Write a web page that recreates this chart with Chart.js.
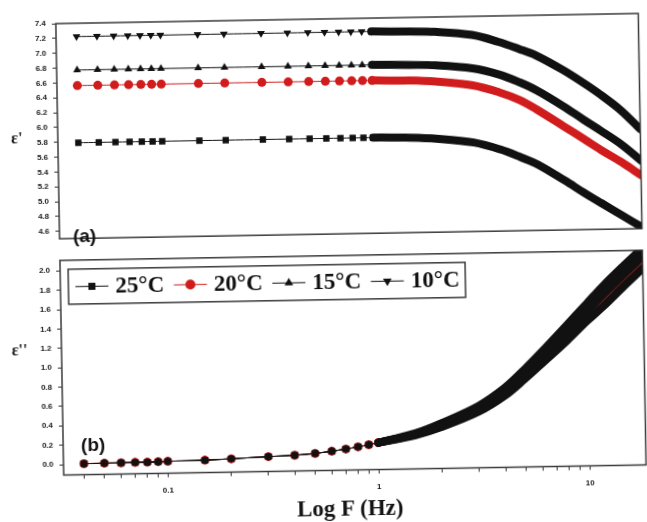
<!DOCTYPE html>
<html>
<head>
<meta charset="utf-8">
<script src="https://cdn.jsdelivr.net/npm/chart.js@4.4.1/dist/chart.umd.min.js"></script>
<style>
  html, body { margin: 0; padding: 0; background: #fff; overflow: hidden; }
  #fig { position: relative; width: 647px; height: 522px; overflow: hidden; background: #fff; }
  #rot { position: absolute; left: 0; top: 0; width: 647px; height: 522px; transform: rotate(-1deg); transform-origin: 323px 261px; }
  canvas { position: absolute; left: 0; }
  .txt { position: absolute; transform: translate(-50%, -50%); color: #141414; white-space: nowrap; line-height: 1; }
</style>
</head>
<body>
<div id="fig"><div id="rot">
  <canvas id="chartA" width="647" height="245" style="top:0"></canvas>
  <canvas id="chartB" width="647" height="277" style="top:245px"></canvas>
  <div class="txt" style="left:19px;top:133px;font:bold 16px 'Liberation Serif'">ε'</div>
  <div class="txt" style="left:18px;top:345px;font:bold 16px 'Liberation Serif'">ε''</div>
  <div class="txt" style="left:85px;top:232px;font:bold 19px 'Liberation Sans'">(a)</div>
  <div class="txt" style="left:90px;top:441px;font:bold 19px 'Liberation Sans'">(b)</div>
  <div class="txt" style="left:346px;top:509px;font:bold 23px 'Liberation Serif'">Log F (Hz)</div>
</div></div>
<script>
// frequencies (Hz); markers are drawn up to 1 Hz, above that the points merge into a thick band
const freqHz = [0.04, 0.05, 0.06, 0.07, 0.08, 0.09, 0.1, 0.15, 0.2, 0.3, 0.4, 0.5, 0.6, 0.7, 0.8, 0.9, 1,
                1.5, 2, 3, 4, 5, 6, 8, 10, 12, 15, 18.5];

const seriesNames = ['25°C', '20°C', '15°C', '10°C'];
const seriesColors = ['#111111', '#d01c1c', '#111111', '#111111'];
const markerStyles = ['rect', 'circle', 'triangle', 'triangle'];
const markerRotation = [0, 0, 0, 180];
const drawOrder = [0, 3, 1, 2];

// panel (a): real permittivity
const epsReal25 = [5.79, 5.79, 5.79, 5.79, 5.79, 5.79, 5.79, 5.79, 5.79, 5.79, 5.79, 5.79, 5.79, 5.79, 5.79, 5.79, 5.79,
                   5.78, 5.76, 5.70, 5.60, 5.49, 5.39, 5.17, 4.99, 4.85, 4.68, 4.52];
const epsReal20 = [6.56, 6.56, 6.56, 6.56, 6.56, 6.56, 6.56, 6.56, 6.56, 6.56, 6.56, 6.56, 6.56, 6.56, 6.56, 6.56, 6.56,
                   6.55, 6.53, 6.47, 6.37, 6.26, 6.13, 5.90, 5.72, 5.57, 5.40, 5.22];
const epsReal15 = [6.77, 6.77, 6.77, 6.77, 6.77, 6.77, 6.77, 6.77, 6.77, 6.77, 6.77, 6.77, 6.77, 6.77, 6.77, 6.77, 6.77,
                   6.76, 6.75, 6.70, 6.61, 6.50, 6.39, 6.17, 5.98, 5.83, 5.64, 5.42];
const epsReal10 = [7.22, 7.22, 7.22, 7.22, 7.22, 7.22, 7.22, 7.22, 7.22, 7.22, 7.22, 7.22, 7.22, 7.22, 7.22, 7.22, 7.22,
                   7.21, 7.20, 7.15, 7.05, 6.95, 6.86, 6.66, 6.48, 6.32, 6.10, 5.84];

// panel (b): imaginary permittivity
const epsImag25 = [0.005, 0.007, 0.008, 0.01, 0.01, 0.012, 0.015, 0.02, 0.03, 0.045, 0.055, 0.07, 0.09, 0.11, 0.13, 0.15, 0.17,
                   0.24, 0.32, 0.47, 0.63, 0.80, 0.95, 1.19, 1.39, 1.54, 1.74, 1.92];
const epsImag20 = [0.005, 0.007, 0.008, 0.01, 0.01, 0.012, 0.015, 0.02, 0.03, 0.045, 0.055, 0.07, 0.09, 0.11, 0.13, 0.15, 0.17,
                   0.25, 0.33, 0.48, 0.65, 0.82, 0.98, 1.22, 1.43, 1.59, 1.79, 1.97];
const epsImag15 = [0.005, 0.007, 0.008, 0.01, 0.01, 0.012, 0.015, 0.02, 0.03, 0.045, 0.055, 0.07, 0.09, 0.11, 0.13, 0.15, 0.17,
                   0.25, 0.34, 0.51, 0.68, 0.86, 1.02, 1.28, 1.49, 1.66, 1.86, 2.04];
const epsImag10 = [0.005, 0.007, 0.008, 0.01, 0.01, 0.012, 0.015, 0.02, 0.03, 0.045, 0.055, 0.07, 0.09, 0.11, 0.13, 0.15, 0.17,
                   0.26, 0.36, 0.53, 0.71, 0.90, 1.07, 1.35, 1.57, 1.75, 1.95, 2.13];

// axis ticks
const realTicks = [4.6, 4.8, 5.0, 5.2, 5.4, 5.6, 5.8, 6.0, 6.2, 6.4, 6.6, 6.8, 7.0, 7.2, 7.4];
const imagTicks = [0.0, 0.2, 0.4, 0.6, 0.8, 1.0, 1.2, 1.4, 1.6, 1.8, 2.0];
const freqTicks = [0.04, 0.05, 0.06, 0.07, 0.08, 0.09, 0.1, 0.2, 0.3, 0.4, 0.5, 0.6, 0.7, 0.8, 0.9,
                   1, 2, 3, 4, 5, 6, 7, 8, 9, 10];
const freqTickLabels = { 0.1: '0.1', 1: '1', 10: '10' };

const tickFont = { family: 'Liberation Sans', size: 8, weight: 'bold' };

function makeDatasets(valueSets, thick) {
    return valueSets.map((vals, i) => ({
        label: seriesNames[i],
        data: freqHz.map((f, j) => ({ x: f, y: vals[j] })),
        order: drawOrder[i],
        borderColor: seriesColors[i],
        backgroundColor: seriesColors[i],
        pointStyle: markerStyles[i],
        pointRotation: markerRotation[i],
        pointRadius: ctx => (ctx.raw && ctx.raw.x <= 1 ? 4.5 : 0),
        pointBorderWidth: 0,
        borderWidth: 1,
        borderCapStyle: 'round',
        borderJoinStyle: 'round',
        tension: 0.35,
        segment: {
            borderWidth: ctx => (ctx.p0.parsed.x >= 1 ? thick : 1)
        }
    }));
}

const framePlugin = {
    id: 'frame',
    afterDatasetsDraw(chart) {
        const { ctx, chartArea: a } = chart;
        ctx.save();
        ctx.strokeStyle = '#3a3a3a';
        ctx.lineWidth = 1.5;
        ctx.strokeRect(a.left, a.top, a.right - a.left, a.bottom - a.top);
        ctx.restore();
    }
};

const legendBoxPlugin = {
    id: 'legendBox',
    afterDatasetsDraw(chart) {
        const { ctx, chartArea: a } = chart;
        const left = a.left + 8, top = a.top + 9, w = 397, h = 35;
        const cy = top + h / 2;
        ctx.save();
        ctx.fillStyle = '#fff';
        ctx.fillRect(left, top, w, h);
        ctx.strokeStyle = '#3a3a3a';
        ctx.lineWidth = 1.5;
        ctx.strokeRect(left, top, w, h);
        ctx.font = "bold 23px 'Liberation Serif'";
        ctx.textBaseline = 'middle';
        chart.data.datasets.forEach((ds, i) => {
            const x0 = left + 7 + i * 98.5;
            ctx.strokeStyle = ds.borderColor;
            ctx.lineWidth = 1;
            ctx.beginPath();
            ctx.moveTo(x0, cy);
            ctx.lineTo(x0 + 33, cy);
            ctx.stroke();
            ctx.fillStyle = ds.backgroundColor;
            Chart.helpers.drawPoint(ctx, { pointStyle: ds.pointStyle, rotation: ds.pointRotation, radius: 5, borderWidth: 0 }, x0 + 16.5, cy);
            ctx.fillStyle = '#111';
            ctx.fillText(ds.label, x0 + 40, cy + 1);
        });
        ctx.restore();
    }
};

function yAxis(min, max, tickList) {
    return {
        min: min,
        max: max,
        afterFit: axis => { axis.width = 60; },
        afterBuildTicks: axis => { axis.ticks = tickList.map(v => ({ value: v })); },
        border: { display: false },
        grid: { drawOnChartArea: false, tickLength: 4, color: '#333', tickWidth: 1 },
        ticks: { padding: 6, color: '#1a1a1a', font: tickFont, callback: v => Number(v).toFixed(1) }
    };
}

new Chart(document.getElementById('chartA'), {
    type: 'line',
    data: { datasets: makeDatasets([epsReal25, epsReal20, epsReal15, epsReal10], 8) },
    options: {
        responsive: false,
        animation: false,
        layout: { padding: { top: 19, right: 2, bottom: 0, left: 0 } },
        plugins: { legend: { display: false }, tooltip: { enabled: false } },
        scales: {
            x: { type: 'logarithmic', min: 0.032, max: 18.5, display: false },
            y: yAxis(4.5, 7.4, realTicks)
        }
    },
    plugins: [framePlugin]
});

new Chart(document.getElementById('chartB'), {
    type: 'line',
    data: { datasets: makeDatasets([epsImag25, epsImag20, epsImag15, epsImag10], 8) },
    options: {
        responsive: false,
        animation: false,
        layout: { padding: { top: 0, right: 2, bottom: 0, left: 0 } },
        plugins: { legend: { display: false }, tooltip: { enabled: false } },
        scales: {
            x: {
                type: 'logarithmic',
                min: 0.032,
                max: 18.5,
                afterFit: axis => { axis.height = 51.5; },
                afterBuildTicks: axis => { axis.ticks = freqTicks.map(v => ({ value: v })); },
                border: { display: false },
                grid: { drawOnChartArea: false, tickLength: 4, color: '#333', tickWidth: 1 },
                ticks: {
                    autoSkip: false,
                    maxRotation: 0,
                    padding: 8,
                    color: '#1a1a1a',
                    font: tickFont,
                    callback: v => freqTickLabels[v] || ''
                }
            },
            y: yAxis(-0.108, 2.108, imagTicks)
        }
    },
    plugins: [framePlugin, legendBoxPlugin]
});
</script>
</body>
</html>
